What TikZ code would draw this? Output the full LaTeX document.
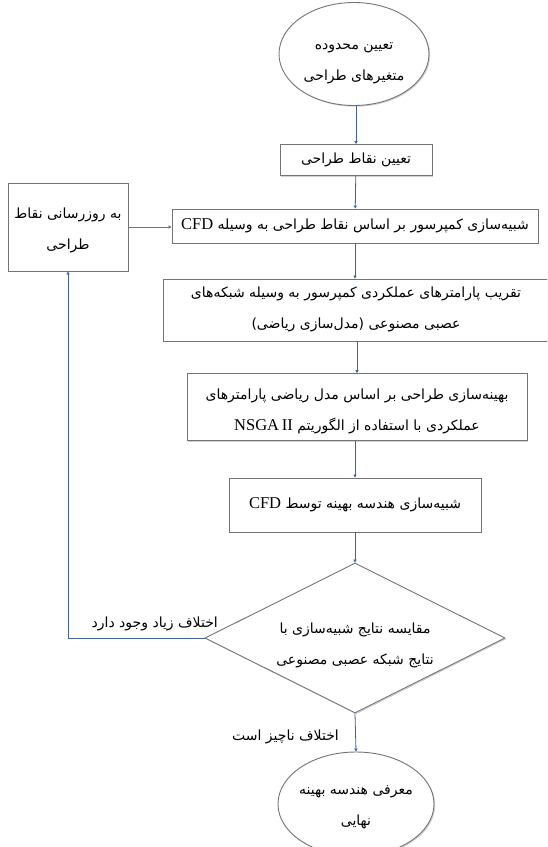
\documentclass[tikz,border=0pt]{standalone}
\usepackage{fontspec}
\setmainfont{Liberation Serif}
\newfontfamily\fa[Script=Arabic]{DejaVu Sans}
\TeXXeTstate=1
\usetikzlibrary{shapes.geometric,arrows.meta,shadows}
\newcommand\fatxt[1]{{\fa\beginR #1\endR}}
\newcommand\latn[1]{{\rmfamily\fontsize{16.5}{16.5}\selectfont #1}}
\definecolor{bordergray}{HTML}{747474}
\definecolor{linkblue}{HTML}{3F6495}
\tikzset{
  shp/.style={draw=bordergray, line width=0.9pt, fill=white, inner sep=0pt, align=center,
    font=\fontsize{14}{31}\selectfont,
    drop shadow={shadow xshift=1.2pt, shadow yshift=-1.2pt, fill=black, opacity=0.18}},
  boxn/.style={shp, rectangle},
  ovaln/.style={shp, ellipse},
  decn/.style={shp, diamond},
  lnk/.style={draw=linkblue, line width=0.8pt, -{Triangle[length=3pt,width=3.2pt]}},
  glnk/.style={draw=bordergray, line width=0.9pt, -{Triangle[length=3pt,width=3.2pt]}},
  lbl/.style={inner sep=0pt, font=\fontsize{14}{31}\selectfont}
}
\begin{document}
\begin{tikzpicture}[x=1pt,y=-1pt]
\useasboundingbox (0,0) rectangle (547,847);
\clip (0,0) rectangle (547,847);
\node[ovaln, minimum width=150pt, minimum height=103pt] (e1) at (354,54)
  {\raisebox{-8pt}[0pt][0pt]{\makebox[0pt]{\begin{tabular}{@{}c@{}}\fatxt{تعیین محدوده}\\\fatxt{متغیرهای طراحی}\end{tabular}}}};
\node[boxn, minimum width=152pt, minimum height=31pt] (b1) at (356,160)
  {\fatxt{تعیین نقاط طراحی}};
\node[boxn, minimum width=120pt, minimum height=88pt] (lb) at (68,227)
  {\raisebox{-4pt}[0pt][0pt]{\makebox[0pt]{\begin{tabular}{@{}c@{}}\fatxt{به روزرسانی نقاط}\\\fatxt{طراحی}\end{tabular}}}};
\node[boxn, minimum width=366pt, minimum height=34pt] (b2) at (355,226)
  {\fatxt{شبیه‌سازی کمپرسور بر اساس نقاط طراحی به وسیله \latn{CFD}}};
\node[boxn, minimum width=386pt, minimum height=62pt] (b3) at (356,310)
  {\raisebox{0pt}[0pt][0pt]{\makebox[0pt]{\begin{tabular}{@{}c@{}}\fatxt{تقریب پارامترهای عملکردی کمپرسور به وسیله شبکه‌های}\\\fatxt{عصبی مصنوعی (مدل‌سازی ریاضی)}\end{tabular}}}};
\node[boxn, minimum width=340pt, minimum height=67pt] (b4) at (357,407)
  {\raisebox{-5pt}[0pt][0pt]{\makebox[0pt]{\begin{tabular}{@{}c@{}}\fatxt{بهینه‌سازی طراحی بر اساس مدل ریاضی پارامترهای}\\\fatxt{عملکردی با استفاده از الگوریتم \beginL\latn{NSGA\,II}\endL}\end{tabular}}}};
\node[boxn, minimum width=252pt, minimum height=54pt] (b5) at (355,505)
  {\fatxt{شبیه‌سازی هندسه بهینه توسط \latn{CFD}}};
\node[decn, minimum width=300pt, minimum height=150pt] (d) at (355,638)
  {\raisebox{-8pt}[0pt][0pt]{\makebox[0pt]{\begin{tabular}{@{}c@{}}\fatxt{مقایسه نتایج شبیه‌سازی با}\\\fatxt{نتایج شبکه عصبی مصنوعی}\end{tabular}}}};
\node[ovaln, minimum width=156pt, minimum height=104pt] (e2) at (356,804)
  {\raisebox{-3pt}[0pt][0pt]{\makebox[0pt]{\begin{tabular}{@{}c@{}}\fatxt{معرفی هندسه بهینه}\\\fatxt{نهایی}\end{tabular}}}};
\node[lbl, anchor=east] (l1) at (218,624) {\fatxt{اختلاف زیاد وجود دارد}};
\node[lbl, anchor=east] (l2) at (339,737) {\fatxt{اختلاف ناچیز است}};
\draw[lnk] (b1.north |- e1.south) -- (b1.north);
\draw[lnk] (b1) -- (b2);
\draw[lnk] (b2.south) -- (b2.south |- b3.north);
\draw[lnk] (b3.south -| b4.north) -- (b4.north);
\draw[lnk] (b4.south -| b5.north) -- (b5.north);
\draw[lnk] (b5.south -| d.north) -- (d.north);
\draw[lnk] (d.south) -- (e2.north);
\draw[lnk] (d.west) -| (lb.south);
\draw[glnk] (lb.east) -- (lb.east -| b2.west);
\end{tikzpicture}
\end{document}
